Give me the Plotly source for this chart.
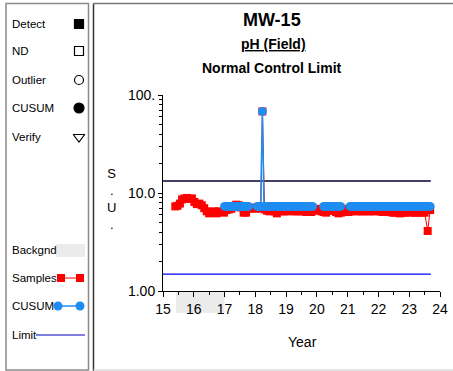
import plotly.graph_objects as go

W, H = 453, 371

# Samples (red) - decimal year / value (S.U.)
sample_year = [15.40, 15.47, 15.55, 15.62, 15.70, 15.78, 15.86, 15.94, 16.02, 16.10,
               16.18, 16.26, 16.34, 16.42, 16.50, 16.58, 16.66, 16.74, 16.82, 16.90,
               16.98, 17.06, 17.14, 17.22, 17.30, 17.38, 17.46, 17.54, 17.62, 17.70,
               17.78, 17.86, 17.94, 18.02, 18.10, 18.18, 18.23, 18.30, 18.38, 18.46,
               18.54, 18.62, 18.70, 18.78, 18.86, 18.94, 19.02, 19.10, 19.18, 19.26,
               19.34, 19.42, 19.50, 19.58, 19.66, 19.74, 19.82, 19.90, 19.98, 20.06,
               20.14, 20.22, 20.30, 20.38, 20.46, 20.54, 20.62, 20.70, 20.78, 20.86,
               20.94, 21.02, 21.10, 21.18, 21.26, 21.34, 21.42, 21.50, 21.58, 21.66,
               21.74, 21.82, 21.90, 21.98, 22.06, 22.14, 22.22, 22.30, 22.38, 22.46,
               22.54, 22.62, 22.70, 22.78, 22.86, 22.94, 23.02, 23.10, 23.18, 23.26,
               23.34, 23.42, 23.50, 23.60, 23.68]
sample_val = [7.3, 7.4, 7.8, 8.6, 8.8, 8.9, 8.7, 8.8, 8.1, 7.7,
              7.8, 7.5, 7.0, 6.5, 6.2, 6.3, 6.5, 6.2, 6.5, 6.4,
              6.3, 6.7, 6.8, 6.9, 7.2, 7.6, 7.5, 7.1, 6.3, 6.3,
              6.9, 7.1, 7.0, 6.9, 7.1, 7.0, 68.0, 6.8, 6.6, 6.5,
              6.6, 6.5, 6.2, 6.5, 6.6, 6.5, 6.5, 6.6, 6.6, 6.5,
              6.5, 6.6, 6.5, 6.5, 6.4, 6.5, 6.4, 6.6, 6.7, 6.9,
              6.5, 6.4, 6.3, 6.6, 6.7, 6.6, 6.4, 6.2, 6.3, 6.6,
              6.9, 6.4, 6.5, 6.6, 6.5, 6.6, 6.5, 6.5, 6.6, 6.5,
              6.5, 6.6, 6.5, 6.6, 6.5, 6.4, 6.5, 6.4, 6.4, 6.3,
              6.3, 6.4, 6.2, 6.3, 6.3, 6.4, 6.3, 6.4, 6.3, 6.3,
              6.4, 6.3, 6.3, 4.1, 6.7]

# CUSUM (blue)
cusum_year = [17.00, 17.06, 17.12, 17.18, 17.24, 17.30, 17.36, 17.42, 17.48, 17.54,
              17.60, 17.66, 17.72, 17.78, None, 18.06, 18.12, 18.17, 18.23, 18.28,
              18.34, 18.40, 18.46, 18.52, 18.58, 18.64, 18.70, 18.76, 18.82, 18.88,
              18.94, 19.00, 19.06, 19.12, 19.18, 19.24, 19.30, 19.36, 19.42, 19.48,
              19.54, 19.60, 19.66, 19.72, 19.78, 19.86, None, 20.22, 20.28, 20.34,
              20.40, 20.46, 20.52, 20.58, 20.64, 20.70, 20.77, None, 21.08, 21.14,
              21.20, 21.26, 21.32, 21.38, 21.44, 21.50, 21.56, 21.62, 21.68, 21.74,
              21.80, 21.86, 21.92, 21.98, 22.04, 22.10, 22.16, 22.22, 22.28, 22.34,
              22.40, 22.46, 22.52, 22.58, 22.64, 22.70, 22.76, 22.82, 22.88, 22.94,
              23.00, 23.06, 23.12, 23.18, 23.24, 23.30, 23.36, 23.42, 23.48, 23.54,
              23.60, 23.68]
cusum_val = [7.3, 7.3, 7.3, 7.3, 7.3, 7.3, 7.3, 7.3, 7.3, 7.3,
             7.3, 7.3, 7.3, 7.3, None, 7.3, 7.3, 7.3, 68.0, 7.3,
             7.3, 7.3, 7.3, 7.3, 7.3, 7.3, 7.3, 7.3, 7.3, 7.3,
             7.3, 7.3, 7.3, 7.3, 7.3, 7.3, 7.3, 7.3, 7.3, 7.3,
             7.3, 7.3, 7.3, 7.3, 7.3, 7.3, None, 7.3, 7.3, 7.3,
             7.3, 7.3, 7.3, 7.3, 7.3, 7.3, 7.3, None, 7.3, 7.3,
             7.3, 7.3, 7.3, 7.3, 7.3, 7.3, 7.3, 7.3, 7.3, 7.3,
             7.3, 7.3, 7.3, 7.3, 7.3, 7.3, 7.3, 7.3, 7.3, 7.3,
             7.3, 7.3, 7.3, 7.3, 7.3, 7.3, 7.3, 7.3, 7.3, 7.3,
             7.3, 7.3, 7.3, 7.3, 7.3, 7.3, 7.3, 7.3, 7.3, 7.3,
             7.3, 7.3]

# control limits
limit_span = [15.0, 23.7]
upper_limit = 13.25
lower_limit = 1.49

# background period
bg_start, bg_end = 15.42, 17.0

x_ticks = [15, 16, 17, 18, 19, 20, 21, 22, 23, 24]
y_ticks = [1, 10, 100]
y_ticktext = ['1.00', '10.0', '100.']
y_minor = [2, 3, 4, 5, 6, 7, 8, 9, 20, 30, 40, 50, 60, 70, 80, 90]

FONT = 'Liberation Sans, Arial, sans-serif'
RED = '#ff0000'
BLUE = '#1e8cf0'

# plot box in pixels
PX0, PX1 = 163, 440
PY_TOP, PY_BOT = 95, 291


def fx(px):
    return px / W


def fy(py):
    return (H - py) / H


fig = go.Figure()

# limits
fig.add_trace(go.Scatter(x=limit_span, y=[upper_limit, upper_limit], mode='lines',
                         line=dict(color='#000030', width=1.4), hoverinfo='skip'))
fig.add_trace(go.Scatter(x=limit_span, y=[lower_limit, lower_limit], mode='lines',
                         line=dict(color='#0000ff', width=1.3), hoverinfo='skip'))

# samples
fig.add_trace(go.Scatter(x=sample_year, y=sample_val, mode='lines+markers',
                         line=dict(color=RED, width=1),
                         marker=dict(symbol='square', size=8, color=RED)))
# cusum
fig.add_trace(go.Scatter(x=cusum_year, y=cusum_val, mode='lines+markers',
                         connectgaps=False,
                         line=dict(color=BLUE, width=1.5),
                         marker=dict(symbol='circle', size=9, color=BLUE)))

# ---- legend panel drawn on pixel overlay axis ----
leg_items = ['Detect', 'ND', 'Outlier', 'CUSUM', 'Verify', 'Backgnd', 'Samples', 'CUSUM', 'Limit']
leg_y = [24, 51, 80, 108, 137, 250, 278, 306, 335]
sym_list = ['square', 'square-open', 'circle-open', 'circle', 'triangle-down-open']
sym_size = [9, 9, 9, 10, 10]

for i, s in enumerate(sym_list):
    fig.add_trace(go.Scatter(x=[79], y=[leg_y[i]], mode='markers', xaxis='x2', yaxis='y2',
                             marker=dict(symbol=s, size=sym_size[i], color='black',
                                         line=dict(color='black', width=1.2)),
                             hoverinfo='skip'))
fig.add_trace(go.Scatter(x=[61, 80], y=[278, 278], mode='lines+markers', xaxis='x2', yaxis='y2',
                         line=dict(color=RED, width=1),
                         marker=dict(symbol='square', size=8, color=RED), hoverinfo='skip'))
fig.add_trace(go.Scatter(x=[58, 80], y=[306, 306], mode='lines+markers', xaxis='x2', yaxis='y2',
                         line=dict(color=BLUE, width=1.5),
                         marker=dict(symbol='circle', size=9, color=BLUE), hoverinfo='skip'))
fig.add_trace(go.Scatter(x=[36, 85], y=[335, 335], mode='lines', xaxis='x2', yaxis='y2',
                         line=dict(color='#0000c0', width=1), hoverinfo='skip'))

annotations = []
for t, yy in zip(leg_items, leg_y):
    annotations.append(dict(text=t, x=10, y=yy, xref='x2', yref='y2', xanchor='left',
                            yanchor='middle', showarrow=False,
                            font=dict(family=FONT, size=11.5, color='black')))


def label(text, px, py, size, anchor='center'):
    return dict(text=text, x=fx(px), y=fy(py), xref='paper', yref='paper', showarrow=False,
                xanchor=anchor, yanchor='middle', font=dict(family=FONT, size=size, color='black'))


# titles
annotations += [
    label('<b>MW-15</b>', 272, 20, 18),
    label('<b><u>pH (Field)</u></b>', 273, 44, 14),
    label('<b>Normal Control Limit</b>', 272, 68, 14),
    label('Year', 302, 342, 14),
    label('S<br>.<br>U<br>.', 111, 199, 13),
]

shapes = [
    # background period strip below axis
    dict(type='rect', xref='x', yref='paper', x0=bg_start, x1=bg_end,
         y0=fy(313), y1=fy(PY_BOT + 1), fillcolor='#ebebeb', line=dict(width=0), layer='below'),
    # legend backgnd swatch
    dict(type='rect', xref='x2', yref='y2', x0=56, x1=85, y0=244, y1=257,
         fillcolor='#ebebeb', line=dict(width=0)),
    # panel frames
    dict(type='rect', xref='x2', yref='y2', x0=6, x1=88.5, y0=3.5, y1=370,
         line=dict(color='#8a8a8a', width=1.5)),
    dict(type='line', xref='x2', yref='y2', x0=93.5, x1=93.5, y0=3.5, y1=371,
         line=dict(color='#333333', width=1.5)),
    dict(type='line', xref='x2', yref='y2', x0=93.5, x1=453, y0=3.5, y1=3.5,
         line=dict(color='#777777', width=1.5)),
    dict(type='line', xref='x2', yref='y2', x0=93.5, x1=453, y0=370, y1=370,
         line=dict(color='#dddddd', width=1.5)),
]

fig.update_layout(
    width=W, height=H,
    margin=dict(l=0, r=0, t=0, b=0, pad=0, autoexpand=False),
    paper_bgcolor='white', plot_bgcolor='rgba(0,0,0,0)',
    showlegend=False,
    font=dict(family=FONT, color='black'),
    xaxis=dict(domain=[fx(PX0), fx(PX1)], range=[15, 24], tickvals=x_ticks,
               showgrid=False, zeroline=False, showline=True, linecolor='black', linewidth=1,
               ticks='outside', ticklen=5, tickcolor='black',
               minor=dict(dtick=0.5, ticks='outside', ticklen=3, tickcolor='black', showgrid=False),
               tickfont=dict(family=FONT, size=14, color='black'), anchor='y'),
    yaxis=dict(domain=[fy(PY_BOT), fy(PY_TOP)], type='log', range=[0, 2],
               tickvals=y_ticks, ticktext=y_ticktext,
               showgrid=False, zeroline=False, showline=True, linecolor='black', linewidth=1,
               ticks='outside', ticklen=4, tickcolor='black',
               minor=dict(tickvals=y_minor, ticks='outside', ticklen=3, tickcolor='black', showgrid=False),
               tickfont=dict(family=FONT, size=14, color='black'), anchor='x'),
    xaxis2=dict(domain=[0, 1], range=[0, W], visible=False, anchor='y2', fixedrange=True),
    yaxis2=dict(domain=[0, 1], range=[H, 0], visible=False, anchor='x2', fixedrange=True),
    annotations=annotations,
    shapes=shapes,
)

fig.write_html('out.html', config={'displayModeBar': False},
               post_script="document.body.style.margin='0';")
